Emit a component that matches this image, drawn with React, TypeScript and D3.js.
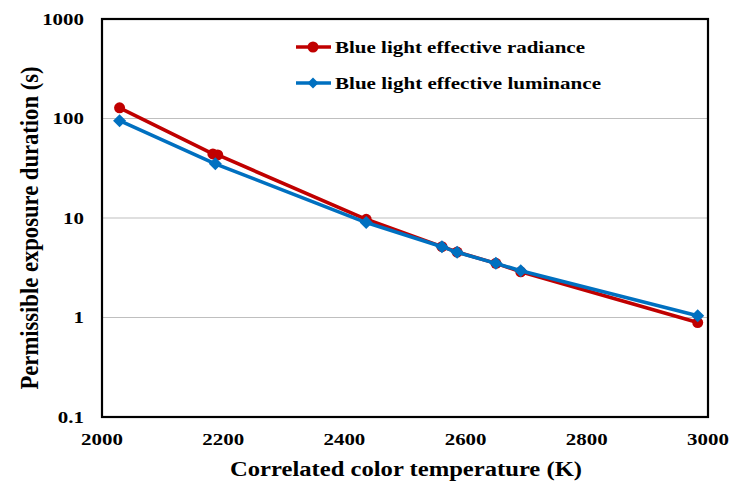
import React from "react";
import * as d3 from "d3";

const W = 731;
const H = 483;

const radianceCCT = [2029, 2183, 2191, 2436, 2561, 2586, 2650, 2691, 2983];
const radianceVal = [128, 44, 43, 9.7, 5.15, 4.55, 3.5, 2.88, 0.89];
const luminanceCCT = [2029, 2187, 2436, 2561, 2586, 2650, 2691, 2983];
const luminanceVal = [95, 35, 9.0, 5.15, 4.52, 3.5, 2.95, 1.04];

const xTicks = [2000, 2200, 2400, 2600, 2800, 3000];
const yTicks = [0.1, 1, 10, 100, 1000];
const yTickLabels = ["0.1", "1", "10", "100", "1000"];
const gridVals = [1, 10, 100];

const seriesNames = ["Blue light effective radiance", "Blue light effective luminance"];
const colors = ["#C00000", "#0070C0"];

const M = { left: 102, right: 708, top: 19, bottom: 417 };
const FONT = "'Liberation Serif', 'Times New Roman', serif";
const SX = 1.27;

function SText({ x, y, anchor, size, children }: any) {
  return (
    <g transform={`translate(${x},${y}) scale(${SX},1)`}>
      <text x={0} y={0} dy="0.35em" textAnchor={anchor} fontSize={size} fontWeight="bold">
        {children}
      </text>
    </g>
  );
}

export default function App() {
  const x = d3.scaleLinear().domain([2000, 3000]).range([M.left, M.right]);
  const y = d3.scaleLog().domain([0.1, 1000]).range([M.bottom, M.top]);
  const line = d3
    .line<[number, number]>()
    .x((d) => x(d[0]))
    .y((d) => y(d[1]));

  const red: [number, number][] = radianceCCT.map((c, i) => [c, radianceVal[i]]);
  const blue: [number, number][] = luminanceCCT.map((c, i) => [c, luminanceVal[i]]);
  const diamond = (cx: number, cy: number, r: number) =>
    `M${cx},${cy - r}L${cx + r},${cy}L${cx},${cy + r}L${cx - r},${cy}Z`;

  return (
    <svg
      width={W}
      height={H}
      style={{ position: "absolute", left: 0, top: 0, background: "#fff" }}
      fontFamily={FONT}
    >
      <rect x={0} y={0} width={W} height={H} fill="#fff" />
      {gridVals.map((g) => (
        <line key={g} x1={M.left} x2={M.right} y1={y(g)} y2={y(g)} stroke="#BFBFBF" strokeWidth={1.2} />
      ))}
      <rect
        x={M.left}
        y={M.top}
        width={M.right - M.left}
        height={M.bottom - M.top}
        fill="none"
        stroke="#000"
        strokeWidth={2.2}
      />
      {yTicks.map((t, i) => (
        <SText key={t} x={84} y={y(t)} anchor="end" size={16.5}>
          {yTickLabels[i]}
        </SText>
      ))}
      {xTicks.map((t) => (
        <SText key={t} x={x(t)} y={439} anchor="middle" size={16.5}>
          {t}
        </SText>
      ))}
      <text
        x={406}
        y={476}
        textAnchor="middle"
        fontSize={20}
        fontWeight="bold"
        textLength={352}
        lengthAdjust="spacingAndGlyphs"
      >
        Correlated  color  temperature  (K)
      </text>
      <g transform={`translate(38,${(M.top + M.bottom) / 2 + 10}) rotate(-90) scale(1,${SX})`}>
        <text x={0} y={0} textAnchor="middle" fontSize={19.5} fontWeight="bold" textLength={323} lengthAdjust="spacingAndGlyphs">
          Permissible exposure duration (s)
        </text>
      </g>

      <path d={line(red) || ""} fill="none" stroke={colors[0]} strokeWidth={3.6} strokeLinejoin="round" />
      {red.map((d, i) => (
        <circle key={i} cx={x(d[0])} cy={y(d[1])} r={5.5} fill={colors[0]} />
      ))}
      <path d={line(blue) || ""} fill="none" stroke={colors[1]} strokeWidth={3.6} strokeLinejoin="round" />
      {blue.map((d, i) => (
        <path key={i} d={diamond(x(d[0]), y(d[1]), 6.5)} fill={colors[1]} />
      ))}

      {seriesNames.map((name, i) => {
        const ly = 47 + i * 36;
        return (
          <g key={name}>
            <line x1={296} x2={331} y1={ly} y2={ly} stroke={colors[i]} strokeWidth={3.6} />
            {i === 0 ? (
              <circle cx={313} cy={ly} r={5.5} fill={colors[i]} />
            ) : (
              <path d={diamond(313, ly, 5.5)} fill={colors[i]} />
            )}
            <text
              x={335}
              y={ly}
              dy="0.35em"
              fontSize={16.5}
              fontWeight="bold"
              textLength={i === 0 ? 250 : 266}
              lengthAdjust="spacingAndGlyphs"
            >
              {name}
            </text>
          </g>
        );
      })}
    </svg>
  );
}
